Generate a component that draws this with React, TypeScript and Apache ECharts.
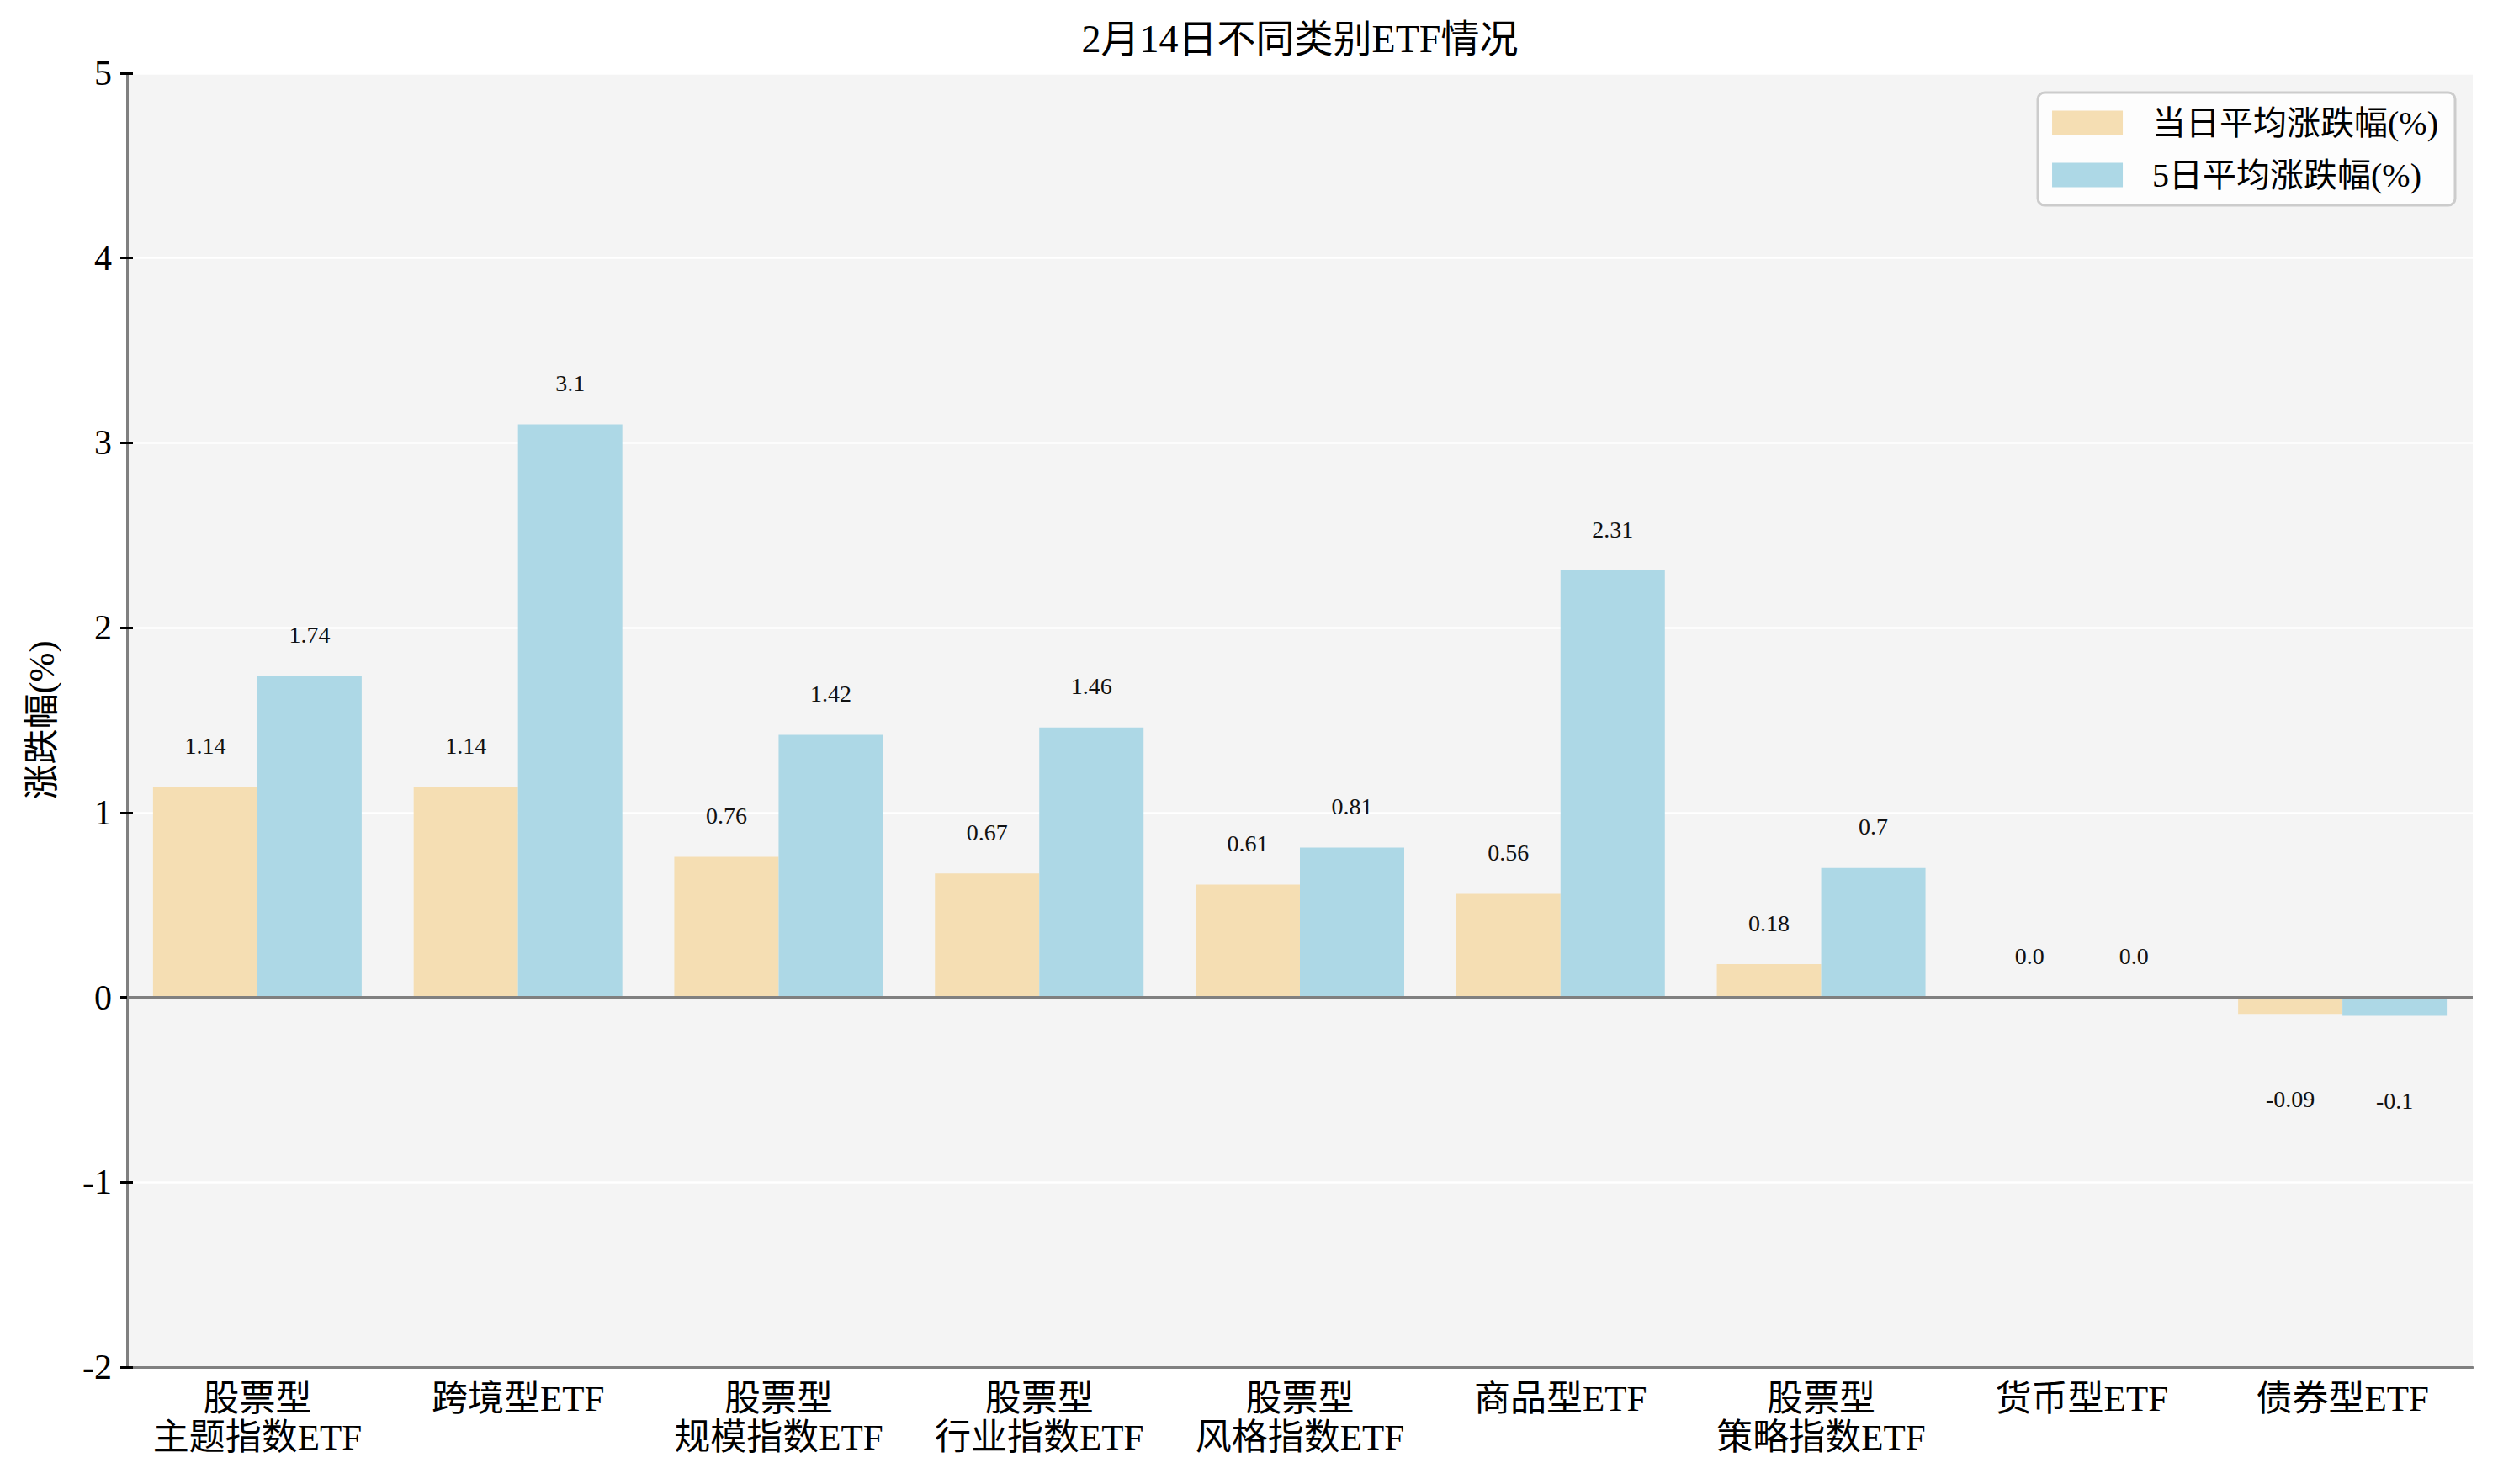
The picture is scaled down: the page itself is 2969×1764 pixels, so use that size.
import React, { useEffect, useRef } from "react";
import * as echarts from "echarts";

const categories = [
  "股票型\n主题指数ETF",
  "跨境型ETF",
  "股票型\n规模指数ETF",
  "股票型\n行业指数ETF",
  "股票型\n风格指数ETF",
  "商品型ETF",
  "股票型\n策略指数ETF",
  "货币型ETF",
  "债券型ETF",
];
const dailyAvg = [1.14, 1.14, 0.76, 0.67, 0.61, 0.56, 0.18, 0.0, -0.09];
const fiveDayAvg = [1.74, 3.1, 1.42, 1.46, 0.81, 2.31, 0.7, 0.0, -0.1];
const seriesNames = ["当日平均涨跌幅(%)", "5日平均涨跌幅(%)"];
const titleText = "2月14日不同类别ETF情况";
const yAxisName = "涨跌幅(%)";

const FONT = "'Liberation Serif', 'Noto Sans CJK SC', serif";

function fmt(v: number) {
  return Number.isInteger(v) ? v.toFixed(1) : String(v);
}

function makeData(vals: number[]) {
  return vals.map((v) => ({
    value: v,
    label:
      v < 0
        ? { position: "bottom", distance: 87 }
        : { position: "top", distance: 35 },
  }));
}

export default function App() {
  const ref = useRef<HTMLDivElement>(null);
  useEffect(() => {
    if (!ref.current) return;
    const chart = echarts.init(ref.current, null, { renderer: "svg" });
    const labelCommon = {
      show: true,
      fontFamily: FONT,
      fontSize: 28,
      color: "#111",
      formatter: (p: any) => fmt(p.value),
    };
    chart.setOption({
      animation: false,
      backgroundColor: "#ffffff",
      textStyle: { fontFamily: FONT },
      graphic: [
        {
          type: "text",
          x: 1545,
          y: 46,
          style: {
            text: titleText,
            fontFamily: FONT,
            fontSize: 46,
            fill: "#000",
            textAlign: "center",
            textVerticalAlign: "middle",
          },
        },
      ],
      legend: {
        show: true,
        orient: "vertical",
        right: 51,
        top: 110,
        data: seriesNames,
        icon: "rect",
        itemWidth: 84,
        itemHeight: 29,
        itemGap: 22,
        padding: [16, 20, 16, 17],
        backgroundColor: "rgba(255,255,255,0.8)",
        borderColor: "#cccccc",
        borderWidth: 3,
        borderRadius: 8,
        textStyle: {
          fontFamily: FONT,
          fontSize: 40,
          color: "#000",
          padding: [0, 0, 0, 30],
        },
      },
      grid: {
        left: 151,
        right: 30,
        top: 87,
        bottom: 139,
        show: true,
        backgroundColor: "#f4f4f4",
        borderWidth: 0,
      },
      xAxis: [
        {
          type: "category",
          data: categories,
          position: "bottom",
          axisLine: { onZero: false, lineStyle: { color: "#808080", width: 3 } },
          axisTick: {
            alignWithLabel: true,
            length: 8,
            lineStyle: { color: "#000", width: 3 },
          },
          axisLabel: {
            fontFamily: FONT,
            fontSize: 43,
            color: "#000",
            margin: 14,
            lineHeight: 46,
            interval: 0,
          },
          splitLine: { show: false },
        },
        {
          type: "category",
          data: categories,
          position: "bottom",
          axisLine: { show: false, onZero: false },
          axisTick: {
            inside: true,
            alignWithLabel: true,
            length: 7,
            lineStyle: { color: "#000", width: 3 },
          },
          axisLabel: { show: false },
          splitLine: { show: false },
        },
      ],
      yAxis: [
        {
          type: "value",
          min: -2,
          max: 5,
          interval: 1,
          name: yAxisName,
          nameLocation: "middle",
          nameGap: 80,
          nameRotate: 90,
          nameTextStyle: { fontFamily: FONT, fontSize: 42, color: "#000" },
          axisLine: { show: true, lineStyle: { color: "#808080", width: 3 } },
          axisTick: {
            show: true,
            length: 8,
            lineStyle: { color: "#000", width: 3 },
          },
          axisLabel: {
            fontFamily: FONT,
            fontSize: 42,
            color: "#000",
            margin: 18,
          },
          splitLine: { show: true, lineStyle: { color: "#ffffff", width: 2.5 } },
        },
        {
          type: "value",
          min: -2,
          max: 5,
          interval: 1,
          position: "left",
          axisLine: { show: false },
          axisTick: {
            show: true,
            inside: true,
            length: 7,
            lineStyle: { color: "#000", width: 3 },
          },
          axisLabel: { show: false },
          splitLine: { show: false },
        },
      ],
      series: [
        {
          name: seriesNames[0],
          type: "bar",
          xAxisIndex: 0,
          yAxisIndex: 0,
          data: makeData(dailyAvg),
          barWidth: 124,
          barGap: "0%",
          itemStyle: { color: "#f5deb3" },
          label: labelCommon,
          markLine: {
            silent: true,
            symbol: "none",
            label: { show: false },
            lineStyle: { color: "#808080", width: 3, type: "solid" },
            data: [{ yAxis: 0 }],
            z: 5,
          },
        },
        {
          name: seriesNames[1],
          type: "bar",
          xAxisIndex: 0,
          yAxisIndex: 0,
          data: makeData(fiveDayAvg),
          barWidth: 124,
          barGap: "0%",
          itemStyle: { color: "#add8e6" },
          label: labelCommon,
        },
      ],
    });
    return () => chart.dispose();
  }, []);
  return (
    <div
      ref={ref}
      style={{ position: "fixed", left: 0, top: 0, width: 2969, height: 1764 }}
    />
  );
}
